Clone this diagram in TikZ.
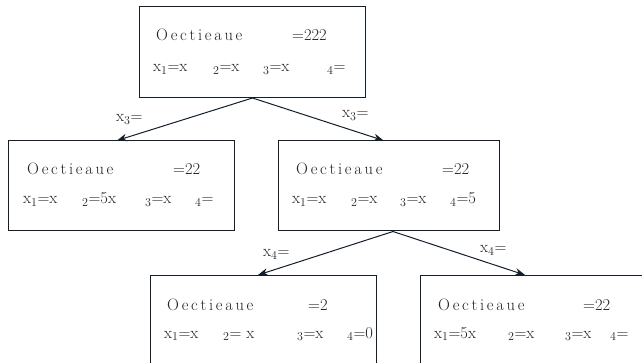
\documentclass[tikz,border=0pt]{standalone}
\usetikzlibrary{arrows.meta}
\definecolor{ln}{RGB}{18,30,42}
\definecolor{tc}{RGB}{35,35,35}
\newcommand\octx{O\kern2.7pt e\kern2.7pt c\kern2.7pt t\kern2.7pt i\kern2.7pt e\kern2.7pt a\kern2.7pt u\kern2.7pt e}
\begin{document}
\begin{tikzpicture}[x=1pt,y=-1pt,
  boxst/.style={draw=ln,line width=1pt,minimum width=226pt,minimum height=91pt,inner sep=0pt},
  txt/.style={anchor=base west,inner sep=0pt,text=tc,font=\fontsize{16.5}{19}\selectfont},
  arr/.style={draw=ln,line width=1pt,-{Stealth[length=10pt,width=7.5pt]}}]
\clip (0,0) rectangle (642,363);
\fill[white] (0,0) rectangle (642,363);
% boxes
\node[boxst] (r) at (252.5,52) {};
\node[boxst,minimum width=226pt,minimum height=90pt] (a) at (121,186) {};
\node[boxst,minimum width=221pt,minimum height=90pt] (b) at (388.5,186) {};
\node[boxst] (c) at (263,321) {};
\node[boxst] (d) at (533,321) {};
% arrows
\draw[arr] (r.south) -- ([xshift=-4pt]a.north);
\draw[arr] (r.south) -- ([xshift=-5pt]b.north);
\draw[arr] ([xshift=4.5pt]b.south) -- ([xshift=-5pt]c.north);
\draw[arr] ([xshift=4.5pt]b.south) -- ([xshift=-8pt]d.north);
% edge labels
\node[txt] (la) at (116,122) {x$_3$=};
\node[txt] (lb) at (342,118) {x$_3$=};
\node[txt] (lc) at (263,257) {x$_4$=};
\node[txt] (ld) at (480,253) {x$_4$=};
% root text
\node[txt] (r1) at (156,41) {\octx};
\node[txt] (r2) at (292,41) {=222};
\node[txt] (r3) at (153,72) {x$_1$=x};
\node[txt] (r4) at (213,72) {$_2$=x};
\node[txt] (r5) at (263,72) {$_3$=x};
\node[txt] (r6) at (327,72) {$_4$=};
% left child
\node[txt] (a1) at (27,175) {\octx};
\node[txt] (a2) at (173,175) {=22};
\node[txt] (a3) at (23,204) {x$_1$=x};
\node[txt] (a4) at (82,204) {$_2$=5x};
\node[txt] (a5) at (145,204) {$_3$=x};
\node[txt] (a6) at (195,204) {$_4$=};
% right child
\node[txt] (b1) at (296,175) {\octx};
\node[txt] (b2) at (442,175) {=22};
\node[txt] (b3) at (292,204) {x$_1$=x};
\node[txt] (b4) at (351,204) {$_2$=x};
\node[txt] (b5) at (400,204) {$_3$=x};
\node[txt] (b6) at (450,204) {$_4$=5};
% bottom left
\node[txt] (c1) at (167,310) {\octx};
\node[txt] (c2) at (308,310) {=2};
\node[txt] (c3) at (164,338) {x$_1$=x};
\node[txt] (c4) at (223,338) {$_2$= x};
\node[txt] (c5) at (297,338) {$_3$=x};
\node[txt] (c6) at (347,338) {$_4$=0};
% bottom right
\node[txt] (d1) at (438,310) {\octx};
\node[txt] (d2) at (583,310) {=22};
\node[txt] (d3) at (434,338) {x$_1$=5x};
\node[txt] (d4) at (508,338) {$_2$=x};
\node[txt] (d5) at (565,338) {$_3$=x};
\node[txt] (d6) at (610,338) {$_4$=};
\end{tikzpicture}
\end{document}
